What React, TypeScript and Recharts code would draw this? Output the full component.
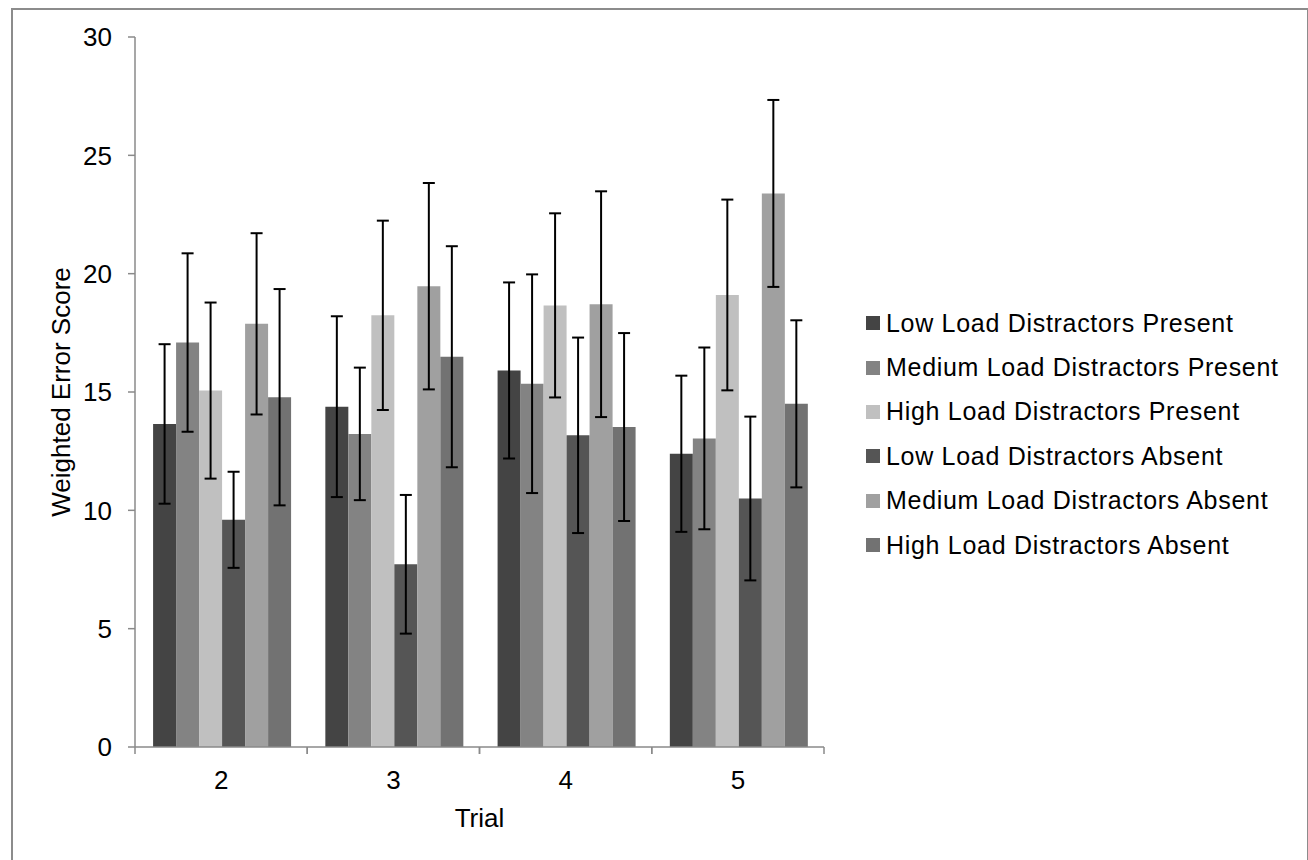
import { Bar, BarChart, ErrorBar, Label, XAxis, YAxis } from "recharts";

const trials = ["2", "3", "4", "5"];
const yTicks = [0, 5, 10, 15, 20, 25, 30];

const lowPresent = [13.65, 14.38, 15.91, 12.39];
const lowPresentErr = [3.37, 3.82, 3.72, 3.3];
const medPresent = [17.09, 13.23, 15.35, 13.04];
const medPresentErr = [3.77, 2.8, 4.62, 3.84];
const highPresent = [15.06, 18.24, 18.66, 19.1];
const highPresentErr = [3.72, 4.0, 3.89, 4.03];
const lowAbsent = [9.6, 7.72, 13.17, 10.5];
const lowAbsentErr = [2.03, 2.93, 4.13, 3.46];
const medAbsent = [17.88, 19.47, 18.71, 23.39];
const medAbsentErr = [3.83, 4.36, 4.77, 3.95];
const highAbsent = [14.78, 16.49, 13.52, 14.5];
const highAbsentErr = [4.57, 4.67, 3.97, 3.53];

const SERIES = [
  { key: "lp", name: "Low Load Distractors Present", color: "#444444", values: lowPresent, errors: lowPresentErr },
  { key: "mp", name: "Medium Load Distractors Present", color: "#838383", values: medPresent, errors: medPresentErr },
  { key: "hp", name: "High Load Distractors Present", color: "#c0c0c0", values: highPresent, errors: highPresentErr },
  { key: "la", name: "Low Load Distractors Absent", color: "#555555", values: lowAbsent, errors: lowAbsentErr },
  { key: "ma", name: "Medium Load Distractors Absent", color: "#a0a0a0", values: medAbsent, errors: medAbsentErr },
  { key: "ha", name: "High Load Distractors Absent", color: "#727272", values: highAbsent, errors: highAbsentErr },
];

const data = trials.map((trial, i) => {
  const row: Record<string, string | number> = { trial };
  SERIES.forEach((s) => {
    row[s.key] = s.values[i];
    row[s.key + "Err"] = s.errors[i];
  });
  return row;
});

const FONT = "'Liberation Sans', Arial, sans-serif";
const AXIS_GRAY = "#8a8a8a";
const PLOT_W = 689;

// category ticks sit on the band edges, like Excel
function TrialTick(props: any) {
  const { x, y, payload } = props;
  const half = payload?.offset ?? PLOT_W / trials.length / 2;
  const axisY = y - 23;
  return (
    <g>
      <line x1={x - half} x2={x - half} y1={axisY} y2={axisY + 7} stroke={AXIS_GRAY} strokeWidth={1.5} />
      <line x1={x + half} x2={x + half} y1={axisY} y2={axisY + 7} stroke={AXIS_GRAY} strokeWidth={1.5} />
      <text x={x} y={y} dy={18.5} textAnchor="middle" fontSize={26} fontFamily={FONT} fill="#000">
        {payload.value}
      </text>
    </g>
  );
}

export default function App() {
  return (
    <div style={{ position: "absolute", left: 0, top: 0, width: 1308, height: 860, background: "#fff", overflow: "hidden" }}>
      <div
        style={{
          position: "absolute",
          left: 11,
          top: 8,
          width: 1294,
          height: 870,
          border: "2px solid #8c8c8c",
        }}
      />
      <div style={{ position: "absolute", left: 0, top: 0 }}>
        <BarChart
          width={1308}
          height={860}
          data={data}
          margin={{ top: 37, right: 484, bottom: 0, left: 0 }}
          barCategoryGap="10.5%"
          barGap={0}
        >
          <XAxis
            dataKey="trial"
            height={113}
            axisLine={{ stroke: AXIS_GRAY, strokeWidth: 1.5 }}
            tickLine={false}
            tickSize={7}
            tickMargin={16}
            tick={<TrialTick />}
          >
            <Label
              content={() => (
                <text x={479.5} y={827} textAnchor="middle" fontSize={26} fontFamily={FONT} fill="#000">
                  Trial
                </text>
              )}
            />
          </XAxis>
          <YAxis
            width={135}
            domain={[0, 30]}
            ticks={yTicks}
            interval={0}
            axisLine={{ stroke: AXIS_GRAY, strokeWidth: 1.5 }}
            tickLine={{ stroke: AXIS_GRAY, strokeWidth: 1.5 }}
            tickSize={7}
            tickMargin={16}
            tick={{ fontSize: 26, fontFamily: FONT, fill: "#000" }}
          >
            <Label
              content={() => (
                <text
                  x={61}
                  y={392}
                  transform="rotate(-90 61 392)"
                  textAnchor="middle"
                  dominantBaseline="central"
                  fontSize={26}
                  fontFamily={FONT}
                  fill="#000"
                >
                  Weighted Error Score
                </text>
              )}
            />
          </YAxis>
          {SERIES.map((s) => (
            <Bar key={s.key} dataKey={s.key} name={s.name} fill={s.color} isAnimationActive={false}>
              <ErrorBar dataKey={s.key + "Err"} width={6} strokeWidth={2} stroke="#000" direction="y" />
            </Bar>
          ))}
        </BarChart>
      </div>
      <div style={{ position: "absolute", left: 866, top: 301, fontFamily: FONT }}>
        {SERIES.map((s) => (
          <div key={s.key} style={{ display: "flex", alignItems: "center", height: 44.4 }}>
            <span style={{ width: 14, height: 14, background: s.color, marginRight: 6, flex: "none" }} />
            <span style={{ fontSize: 25, letterSpacing: 0.7, whiteSpace: "nowrap", color: "#000" }}>{s.name}</span>
          </div>
        ))}
      </div>
    </div>
  );
}
